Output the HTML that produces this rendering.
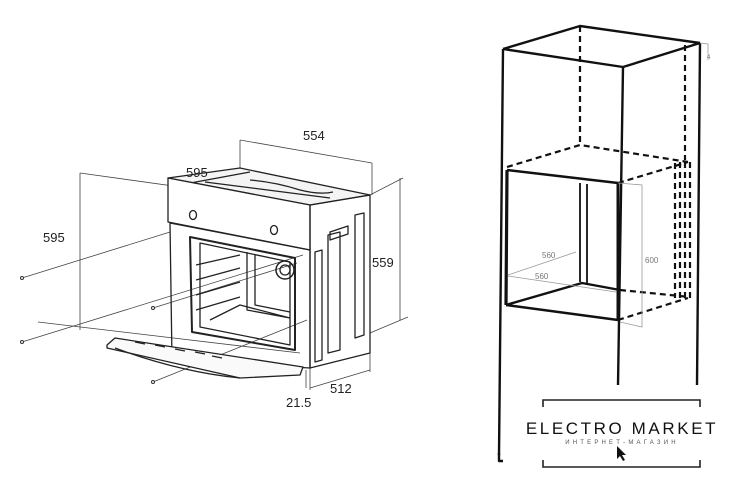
<!DOCTYPE html>
<html><head><meta charset="utf-8"><style>
html,body{margin:0;padding:0;background:#fff;}
svg{display:block}
text{font-family:"Liberation Sans",sans-serif;}
</style></head><body>
<svg width="736" height="504" viewBox="0 0 736 504" xmlns="http://www.w3.org/2000/svg">
<rect width="736" height="504" fill="#fff"/>
<g fill="none" stroke="#444" stroke-width="0.8">
<line x1="240" y1="140" x2="372" y2="163"/>
<line x1="240" y1="140" x2="240" y2="170"/>
<line x1="372" y1="163" x2="372" y2="195"/>
<line x1="80" y1="173" x2="310" y2="205"/>
<line x1="80" y1="173" x2="80" y2="330"/>
<line x1="370" y1="195" x2="403" y2="178"/>
<line x1="400" y1="178" x2="400" y2="320"/>
<line x1="370" y1="333" x2="408" y2="317"/>
<line x1="310" y1="368" x2="310" y2="390"/>
<line x1="306" y1="370" x2="306" y2="388"/>
<line x1="310" y1="388" x2="370" y2="370"/>
<line x1="370" y1="353" x2="370" y2="372"/>
<line x1="22" y1="278" x2="170" y2="232"/>
<line x1="22" y1="342" x2="303" y2="255"/>
<line x1="153" y1="308" x2="297" y2="263"/>
<line x1="153" y1="382" x2="307" y2="320"/>
<line x1="38" y1="322" x2="300" y2="353"/>
</g>
<g fill="#fff" stroke="#333" stroke-width="1">
<circle cx="22" cy="278" r="1.5"/><circle cx="22" cy="342" r="1.5"/>
<circle cx="153" cy="308" r="1.5"/><circle cx="153" cy="382" r="1.5"/>
</g>
<g fill="none" stroke="#222" stroke-width="1.3" stroke-linejoin="round">
<polygon points="168,178 240,168 370,195 310,205" fill="#f4f4f4"/>
<path d="M185,184 L250,172 M205,182 L330,198 M250,180 Q275,182 300,190 Q320,195 333,192"/>
<polygon points="168,178 310,205 310,250 168,222" fill="#fff"/>
<ellipse cx="193" cy="215" rx="3.5" ry="4.5"/>
<ellipse cx="274" cy="230" rx="3.5" ry="4.5"/>
<polygon points="310,205 370,195 370,353 310,368"/>
<path d="M315,252 L322,250 L322,360 L315,362 Z M328,235 L340,232 L340,350 L328,353 Z M355,215 L364,213 L364,335 L355,338 Z M330,232 L348,226 L348,234 L330,240 Z"/>
<polygon points="170,223 310,250 310,368 172,360"/>
<polygon points="190,237 295,258 295,350 192,332" stroke-width="2"/>
<polygon points="200,243 290,262 290,345 200,327"/>
<path d="M247,252 L247,310 L290,318 M255,255 L255,305 L290,312 M196,265 L240,255 M196,280 L240,268 M196,295 L240,282 M196,310 L240,297 M210,320 L240,305 L290,318"/>
<circle cx="285" cy="270" r="9" stroke-width="1.5"/>
<circle cx="285" cy="270" r="5"/>
<polygon points="107,345 115,338 303,367 300,375 240,378 107,348" fill="#fafafa"/>
<path d="M115,348 Q180,372 240,378 M135,342 L145,344 M155,345 L165,347 M175,349 L185,351 M195,352 L205,354 M212,356 L222,358"/>
</g>
<g font-size="13" fill="#222">
<text x="303" y="140">554</text>
<text x="186" y="177">595</text>
<text x="43" y="242">595</text>
<text x="372" y="267">559</text>
<text x="330" y="393">512</text>
<text x="286" y="407">21.5</text>
</g>
<g fill="none" stroke="#111" stroke-width="2.4" stroke-linejoin="round">
<polyline points="503,49 580,26 700,43"/>
<polyline points="503,49 623,67 700,43"/>
<line x1="503" y1="49" x2="499" y2="455"/>
<polyline points="499,453 499,461 503,461"/>
<line x1="623" y1="67" x2="618" y2="385"/>
<line x1="700" y1="43" x2="697" y2="385"/>
<line x1="507" y1="170" x2="618" y2="183"/>
<line x1="507" y1="170" x2="506" y2="305" stroke-width="3.2"/>
<line x1="506" y1="305" x2="618" y2="320"/>
<line x1="618" y1="183" x2="618" y2="320" stroke-width="3"/>
<polyline points="506,305 582,283 620,290"/>
<line x1="580" y1="183" x2="580" y2="282" stroke-width="1.8"/>
<line x1="587" y1="184" x2="587" y2="285" stroke-width="1.8"/>
</g>
<g fill="none" stroke="#111" stroke-width="2.2" stroke-dasharray="6,4">
<line x1="580" y1="26" x2="580" y2="145"/>
<line x1="685" y1="45" x2="685" y2="160"/>
<polyline points="507,167 580,145 688,162"/>
<line x1="618" y1="183" x2="688" y2="162"/>
<line x1="620" y1="290" x2="690" y2="297"/>
<line x1="618" y1="320" x2="688" y2="298"/>
<line x1="675" y1="163" x2="675" y2="298"/>
<line x1="680" y1="162" x2="680" y2="298"/>
<line x1="685" y1="162" x2="685" y2="298"/>
<line x1="690" y1="162" x2="690" y2="298"/>
</g>
<g fill="none" stroke="#999" stroke-width="0.8">
<polyline points="618,183 642,185 642,327 620,322"/>
<line x1="508" y1="275" x2="576" y2="252"/>
<line x1="508" y1="276" x2="616" y2="292"/>
<polyline points="700,43 708,44 708,60"/>
</g>
<g font-size="8" fill="#777">
<text x="542" y="258">560</text>
<text x="535" y="279">560</text>
<text x="645" y="263">600</text>
<text x="707" y="59" font-size="6">4</text>
</g>
<g fill="none" stroke="#222" stroke-width="1.6">
<polyline points="543,407 543,400 700,400 700,407"/>
<polyline points="543,460 543,467 700,467 700,460"/>
</g>
<rect x="518" y="415" width="210" height="30" fill="#fff"/>
<text x="622" y="434" font-size="17" text-anchor="middle" letter-spacing="2.6" fill="#111">ELECTRO MARKET</text>
<text x="622" y="444" font-size="6" text-anchor="middle" letter-spacing="3.2" fill="#555">ИНТЕРНЕТ-МАГАЗИН</text>
<path d="M617,446 L617,459 L620,456 L623,461 L625,460 L622,455 L626,455 Z" fill="#111"/>
</svg>
</body></html>
